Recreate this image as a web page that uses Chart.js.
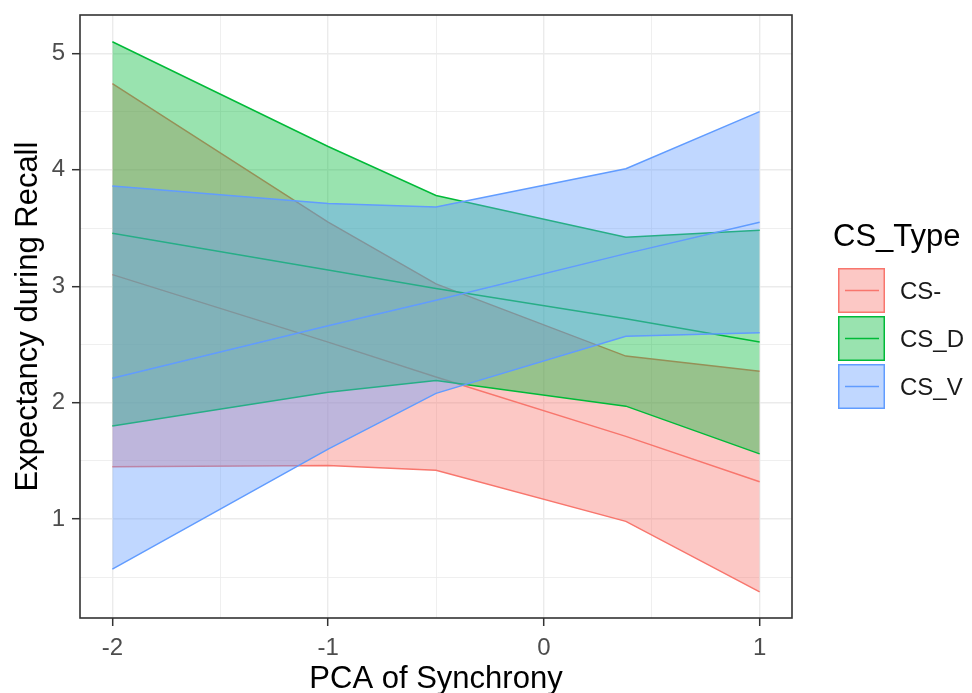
<!DOCTYPE html>
<html><head><meta charset="utf-8">
<script src="https://cdn.jsdelivr.net/npm/chart.js@4.4.1/dist/chart.umd.min.js"></script>
<style>html,body{margin:0;padding:0;background:#fff;}</style>
</head><body>
<canvas id="c" width="972" height="693"></canvas>
<script>
// ---- data ----
const xValues = [-2, -1, -0.5, 0.38, 1];
const csMinusMean  = [3.10, 2.52, 2.22, 1.71, 1.32];
const csMinusUpper = [4.74, 3.55, 3.02, 2.40, 2.27];
const csMinusLower = [1.45, 1.46, 1.42, 0.98, 0.375];
const csDMean  = [3.455, 3.14, 2.98, 2.72, 2.52];
const csDUpper = [5.10, 4.20, 3.78, 3.42, 3.48];
const csDLower = [1.80, 2.09, 2.19, 1.97, 1.56];
const csVMean  = [2.21, 2.66, 2.88, 3.28, 3.55];
const csVUpper = [3.86, 3.71, 3.68, 4.01, 4.50];
const csVLower = [0.57, 1.60, 2.08, 2.57, 2.60];
const groupNames = ['CS-', 'CS_D', 'CS_V'];
const xTicks = [-2, -1.5, -1, -0.5, 0, 0.5, 1];
const yTicks = [0.5, 1, 1.5, 2, 2.5, 3, 3.5, 4, 4.5, 5];
const xTitle = 'PCA of Synchrony';
const yTitle = 'Expectancy during Recall';
const legendTitle = 'CS_Type';

// ---- styling ----
const FONT = "'Liberation Sans', Arial, sans-serif";
const colors = ['#F8766D', '#00BA38', '#619CFF'];
const fills = ['rgba(248,118,109,0.4)', 'rgba(0,186,56,0.4)', 'rgba(97,156,255,0.4)'];
const groups = [
  {mean: csMinusMean, lower: csMinusLower, upper: csMinusUpper},
  {mean: csDMean, lower: csDLower, upper: csDUpper},
  {mean: csVMean, lower: csVLower, upper: csVUpper}
];
const pts = arr => xValues.map((x, i) => ({x: x, y: arr[i]}));

const datasets = [];
groups.forEach((g, gi) => {
  const base = gi * 3;
  const ord = 3 - gi; // later groups drawn on top
  const common = {borderColor: colors[gi], borderWidth: 1.5, pointRadius: 0, tension: 0, order: ord};
  datasets.push(Object.assign({label: groupNames[gi] + ' mean', data: pts(g.mean), fill: false}, common));
  datasets.push(Object.assign({label: groupNames[gi] + ' lower', data: pts(g.lower), fill: false}, common));
  datasets.push(Object.assign({label: groupNames[gi] + ' upper', data: pts(g.upper), fill: base + 1, backgroundColor: fills[gi]}, common));
});

const isMajor = v => Math.abs(v - Math.round(v)) < 1e-9;

const borderPlugin = {
  id: 'panelBorder',
  afterDatasetsDraw(chart) {
    const {ctx, chartArea: a} = chart;
    ctx.save();
    ctx.strokeStyle = '#333333';
    ctx.lineWidth = 1.6;
    ctx.strokeRect(a.left, a.top, a.right - a.left, a.bottom - a.top);
    ctx.restore();
  }
};

const legendPlugin = {
  id: 'ggLegend',
  afterDraw(chart) {
    const ctx = chart.ctx;
    ctx.save();
    ctx.textAlign = 'left';
    ctx.textBaseline = 'alphabetic';
    ctx.fillStyle = '#000';
    ctx.font = '31px ' + FONT;
    ctx.fillText(legendTitle, 833, 246);
    const keyX = 838, keyW = 47, keyH = 45, rowH = 48, top0 = 268;
    groupNames.forEach((name, i) => {
      const y = top0 + i * rowH;
      ctx.fillStyle = fills[i];
      ctx.fillRect(keyX, y, keyW, keyH);
      ctx.strokeStyle = colors[i];
      ctx.lineWidth = 1.5;
      ctx.strokeRect(keyX + 0.75, y + 0.75, keyW - 1.5, keyH - 1.5);
      ctx.beginPath();
      ctx.moveTo(845, y + keyH / 2);
      ctx.lineTo(879, y + keyH / 2);
      ctx.stroke();
      ctx.fillStyle = '#1a1a1a';
      ctx.font = '24px ' + FONT;
      ctx.fillText(name, 900, y + keyH / 2 + 8.5);
    });
    ctx.restore();
  }
};

new Chart(document.getElementById('c'), {
  type: 'line',
  data: {datasets: datasets},
  plugins: [borderPlugin, legendPlugin],
  options: {
    responsive: false,
    animation: false,
    devicePixelRatio: 1,
    layout: {padding: {left: 0, top: 15, right: 180, bottom: 0}},
    plugins: {
      legend: {display: false},
      tooltip: {enabled: false},
      filler: {drawTime: 'beforeDatasetDraw'}
    },
    scales: {
      x: {
        type: 'linear',
        min: -2.15,
        max: 1.15,
        afterBuildTicks: s => { s.ticks = xTicks.map(v => ({value: v})); },
        afterFit: s => { s.height = 75; s.paddingLeft = 0; s.paddingRight = 0; s.paddingTop = 0; s.paddingBottom = 0; },
        border: {display: false},
        grid: {
          color: '#EBEBEB',
          lineWidth: c => isMajor(c.tick.value) ? 1.4 : 0.8,
          tickColor: c => isMajor(c.tick.value) ? '#333333' : 'rgba(0,0,0,0)',
          tickLength: 8,
          tickWidth: 1.5
        },
        ticks: {
          autoSkip: false,
          maxRotation: 0,
          padding: 8,
          color: '#4D4D4D',
          font: {family: FONT, size: 24},
          callback: v => isMajor(v) ? String(v) : ''
        },
        title: {
          display: true,
          text: xTitle,
          color: '#000',
          font: {family: FONT, size: 31, lineHeight: 0.9},
          padding: {top: 0, bottom: 0}
        }
      },
      y: {
        type: 'linear',
        min: 0.15,
        max: 5.33,
        afterBuildTicks: s => { s.ticks = yTicks.map(v => ({value: v})); },
        afterFit: s => { s.width = 80; s.paddingTop = 0; s.paddingBottom = 0; s.paddingLeft = 0; s.paddingRight = 0; },
        border: {display: false},
        grid: {
          color: '#EBEBEB',
          lineWidth: c => isMajor(c.tick.value) ? 1.4 : 0.8,
          tickColor: c => isMajor(c.tick.value) ? '#333333' : 'rgba(0,0,0,0)',
          tickLength: 8,
          tickWidth: 1.5
        },
        ticks: {
          autoSkip: false,
          padding: 7,
          color: '#4D4D4D',
          font: {family: FONT, size: 24},
          callback: v => isMajor(v) ? String(v) : ''
        },
        title: {
          display: true,
          text: yTitle,
          color: '#000',
          font: {family: FONT, size: 31, lineHeight: 1.2},
          padding: {top: 10, bottom: 0}
        }
      }
    }
  }
});
</script>
</body></html>
